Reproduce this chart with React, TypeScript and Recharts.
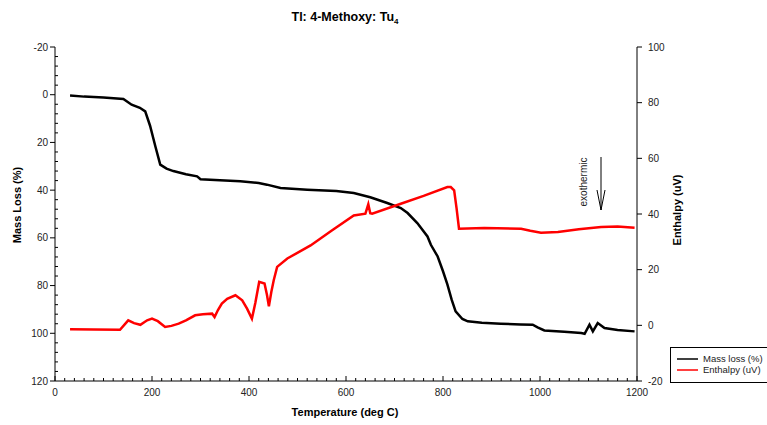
import React from 'react';
import { ComposedChart, Line, XAxis, YAxis } from 'recharts';

// mass loss curve (left axis, %)
const massTemp = [31, 60, 100, 141, 158, 175, 186, 196, 207, 217, 230, 244, 270, 293, 300, 340, 382, 420, 437, 465, 520, 580, 616, 650, 685, 713, 727, 747, 768, 775, 789, 800, 809, 818, 826, 840, 851, 880, 919, 960, 985, 995, 1009, 1050, 1085, 1092, 1102, 1109, 1119, 1133, 1160, 1195];
const massLoss = [0.3, 0.8, 1.2, 1.8, 4.2, 5.5, 7, 13, 21.7, 29.3, 31, 32, 33.3, 34.2, 35.4, 35.9, 36.3, 37, 37.7, 39.1, 39.8, 40.4, 41.2, 43, 45.4, 47.5, 49.6, 53.8, 59.4, 62.9, 67.8, 74, 79.5, 86, 90.8, 94, 95, 95.6, 96, 96.3, 96.4, 97.5, 98.8, 99.4, 99.9, 100.2, 96.4, 99.2, 95.7, 97.8, 98.6, 99.2];

// enthalpy curve (right axis, uV)
const enthTemp = [31, 80, 134, 151, 163, 176, 190, 200, 212, 227, 240, 255, 270, 289, 305, 324, 329, 336, 344, 355, 372, 386, 396, 406, 413, 421, 432, 437, 441, 446, 451, 458, 479, 527, 570, 616, 640, 646, 650, 654, 713, 760, 809, 816, 823, 828, 833, 885, 961, 980, 1002, 1037, 1080, 1126, 1160, 1195];
const enthalpy = [-1.4, -1.5, -1.6, 1.8, 0.8, 0.2, 1.8, 2.4, 1.5, -0.6, -0.2, 0.6, 1.8, 3.6, 4.0, 4.2, 3.0, 5.5, 7.8, 9.5, 10.8, 9, 6, 2.4, 8, 15.6, 15, 11, 6.8, 12, 16.2, 21, 24, 28.7, 34, 39.5, 40.1, 43.5, 40.3, 40.1, 43.7, 46.5, 49.7, 49.7, 48.5, 42, 34.7, 35, 34.7, 34, 33.3, 33.5, 34.5, 35.3, 35.5, 35.1];

const massTicks = [-20, 0, 20, 40, 60, 80, 100, 120];
const enthTicks = [-20, 0, 20, 40, 60, 80, 100];
const tempTicks = [0, 200, 400, 600, 800, 1000, 1200];

const massMinor: number[] = [];
for (let v = -20; v <= 120; v += 4) massMinor.push(v);
const tempMinor: number[] = [];
for (let v = 0; v <= 1200; v += 20) tempMinor.push(v);

const massData = massTemp.map((t, i) => ({ t, mass: massLoss[i] }));
const enthData = enthTemp.map((t, i) => ({ t, enth: enthalpy[i] }));

const font = '"Liberation Sans", Arial, sans-serif';
const labelColor = '#222';

const LeftTick = (props: any) => {
  const { x, y, payload } = props;
  const major = massTicks.includes(payload.value);
  return (
    <g>
      <line x1={x} x2={major ? x - 5 : x + 3} y1={y} y2={y} stroke="#000" />
      {major && (
        <text x={x - 7} y={y} dy={3.5} textAnchor="end" fontSize={10} fill={labelColor} fontFamily={font}>
          {payload.value}
        </text>
      )}
    </g>
  );
};

const RightTick = (props: any) => {
  const { x, y, payload } = props;
  return (
    <g>
      <line x1={x} x2={x + 5} y1={y} y2={y} stroke="#000" />
      <text x={x + 11} y={y} dy={3.5} textAnchor="start" fontSize={10} fill={labelColor} fontFamily={font}>
        {payload.value}
      </text>
    </g>
  );
};

const BottomTick = (props: any) => {
  const { x, y, payload } = props;
  const major = tempTicks.includes(payload.value);
  return (
    <g>
      <line x1={x} x2={x} y1={y} y2={major ? y - 5 : y - 3} stroke="#000" />
      {major && (
        <text x={x} y={y} dy={15} textAnchor="middle" fontSize={10} fill={labelColor} fontFamily={font}>
          {payload.value}
        </text>
      )}
    </g>
  );
};

const TopTick = (props: any) => {
  const { x, y } = props;
  return <line x1={x} x2={x} y1={y} y2={y + 4} stroke="#000" />;
};

const App: React.FC = () => {
  return (
    <div style={{ position: 'absolute', left: 0, top: 0, width: 767, height: 425, background: '#fff', fontFamily: font }}>
      <ComposedChart width={767} height={425} margin={{ top: 47, right: 90, bottom: 14, left: 15 }}>
        <XAxis
          xAxisId="bottom"
          dataKey="t"
          type="number"
          domain={[0, 1200]}
          ticks={tempMinor}
          interval={0}
          height={30}
          tickSize={0}
          tickMargin={0}
          tick={<BottomTick />}
          axisLine={{ stroke: '#000' }}
          allowDuplicatedCategory={false}
        />
        <XAxis
          xAxisId="top"
          orientation="top"
          type="number"
          domain={[0, 1200]}
          ticks={tempTicks}
          interval={0}
          height={0}
          tickSize={0}
          tickMargin={0}
          tick={<TopTick />}
          axisLine={{ stroke: '#888', strokeWidth: 1.5 }}
        />
        <YAxis
          yAxisId="left"
          domain={[-20, 120]}
          reversed
          ticks={massMinor}
          interval={0}
          width={40}
          tickSize={0}
          tickMargin={0}
          tick={<LeftTick />}
          axisLine={{ stroke: '#000' }}
          allowDataOverflow
        />
        <YAxis
          yAxisId="right"
          orientation="right"
          domain={[-20, 100]}
          ticks={enthTicks}
          interval={0}
          width={40}
          tickSize={0}
          tickMargin={0}
          tick={<RightTick />}
          axisLine={{ stroke: '#000' }}
          allowDataOverflow
        />
        <Line
          data={massData}
          xAxisId="bottom"
          yAxisId="left"
          dataKey="mass"
          name="Mass loss (%)"
          stroke="#000"
          strokeWidth={2.5}
          dot={false}
          type="linear"
          isAnimationActive={false}
        />
        <Line
          data={enthData}
          xAxisId="bottom"
          yAxisId="right"
          dataKey="enth"
          name="Enthalpy (uV)"
          stroke="#ff0000"
          strokeWidth={2.5}
          dot={false}
          type="linear"
          isAnimationActive={false}
        />
      </ComposedChart>
      <svg width={767} height={425} style={{ position: 'absolute', left: 0, top: 0, pointerEvents: 'none' }}>
        <text x={345} y={21} textAnchor="middle" fontSize={12.5} fontWeight="bold" fill="#000" fontFamily={font}>
          Tl: 4-Methoxy: Tu<tspan fontSize={8} dy={3}>4</tspan>
        </text>
        <text x={345} y={416} textAnchor="middle" fontSize={11} fontWeight="bold" fill="#000" fontFamily={font}>
          Temperature (deg C)
        </text>
        <text transform="translate(21,205) rotate(-90)" textAnchor="middle" fontSize={11} fontWeight="bold" fill="#000" fontFamily={font}>
          Mass Loss (%)
        </text>
        <text transform="translate(681,210) rotate(-90)" textAnchor="middle" fontSize={11} fontWeight="bold" fill="#000" fontFamily={font}>
          Enthalpy (uV)
        </text>
        <text transform="translate(587,182) rotate(-90)" textAnchor="middle" fontSize={10} fill="#222" fontFamily={font}>
          exothermic
        </text>
        <line x1={601} x2={601} y1={157} y2={210} stroke="#000" strokeWidth={1} />
        <polyline points="597,190 601,210 605,190" fill="none" stroke="#000" strokeWidth={1} />
        <rect x={670.5} y={347.5} width={100} height={35} fill="#fff" stroke="#000" strokeWidth={1} />
        <line x1={677} x2={698} y1={359} y2={359} stroke="#000" strokeWidth={1.5} />
        <line x1={677} x2={698} y1={370} y2={370} stroke="#ff0000" strokeWidth={1.5} />
        <text x={703} y={362} fontSize={9.5} fill="#222" fontFamily={font}>Mass loss (%)</text>
        <text x={703} y={373} fontSize={9.5} fill="#222" fontFamily={font}>Enthalpy (uV)</text>
      </svg>
    </div>
  );
};

export default App;
